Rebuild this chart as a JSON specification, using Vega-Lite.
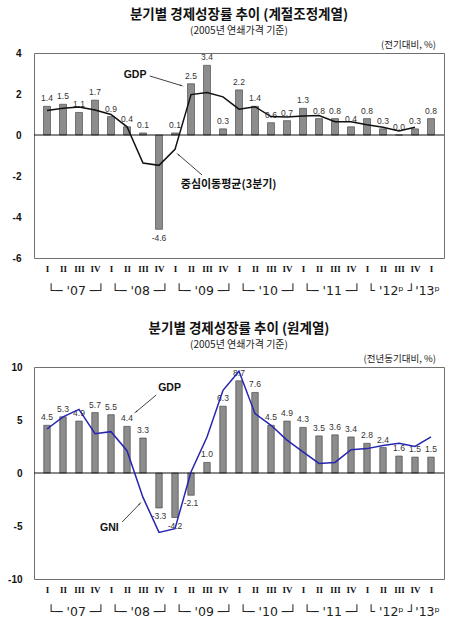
{
  "$schema": "https://vega.github.io/schema/vega-lite/v6.json",
  "background": "white",
  "padding": {"top": 7, "left": 7, "right": 2, "bottom": 0},
  "spacing": 24,
  "config": {
    "view": {"stroke": "#707070", "strokeWidth": 1},
    "font": "Liberation Sans",
    "title": {
      "font": "Noto Sans CJK KR",
      "fontSize": 13.5,
      "fontWeight": "bold",
      "color": "#111111",
      "subtitleFont": "Noto Sans CJK KR",
      "subtitleFontSize": 10,
      "subtitleColor": "#222222",
      "subtitlePadding": 5,
      "anchor": "middle",
      "frame": "group",
      "offset": 4
    }
  },
  "datasets": {
    "one": [{}],
    "sa": [
      {"n": 0, "gdp": 1.4, "ma": 1.2},
      {"n": 1, "gdp": 1.5, "ma": 1.3},
      {"n": 2, "gdp": 1.1, "ma": 1.37},
      {"n": 3, "gdp": 1.7, "ma": 1.22},
      {"n": 4, "gdp": 0.9, "ma": 1.0},
      {"n": 5, "gdp": 0.4, "ma": 0.4},
      {"n": 6, "gdp": 0.1, "ma": -1.37},
      {"n": 7, "gdp": -4.6, "ma": -1.48},
      {"n": 8, "gdp": 0.1, "ma": -0.7},
      {"n": 9, "gdp": 2.5, "ma": 1.97},
      {"n": 10, "gdp": 3.4, "ma": 2.07},
      {"n": 11, "gdp": 0.3, "ma": 1.86},
      {"n": 12, "gdp": 2.2, "ma": 1.26},
      {"n": 13, "gdp": 1.4, "ma": 1.38},
      {"n": 14, "gdp": 0.6, "ma": 0.9},
      {"n": 15, "gdp": 0.7, "ma": 0.88},
      {"n": 16, "gdp": 1.3, "ma": 0.93},
      {"n": 17, "gdp": 0.8, "ma": 0.95},
      {"n": 18, "gdp": 0.8, "ma": 0.65},
      {"n": 19, "gdp": 0.4, "ma": 0.65},
      {"n": 20, "gdp": 0.8, "ma": 0.5},
      {"n": 21, "gdp": 0.3, "ma": 0.38},
      {"n": 22, "gdp": 0.0, "ma": 0.2},
      {"n": 23, "gdp": 0.3, "ma": 0.38},
      {"n": 24, "gdp": 0.8, "ma": null}
    ],
    "yoy": [
      {"n": 0, "gdp": 4.5, "gni": 4.15},
      {"n": 1, "gdp": 5.3, "gni": 5.3},
      {"n": 2, "gdp": 4.9, "gni": 6.0},
      {"n": 3, "gdp": 5.7, "gni": 3.7},
      {"n": 4, "gdp": 5.5, "gni": 3.9},
      {"n": 5, "gdp": 4.4, "gni": 2.1},
      {"n": 6, "gdp": 3.3, "gni": -2.3},
      {"n": 7, "gdp": -3.3, "gni": -5.6},
      {"n": 8, "gdp": -4.2, "gni": -5.25},
      {"n": 9, "gdp": -2.1, "gni": 0.1},
      {"n": 10, "gdp": 1.0, "gni": 3.4},
      {"n": 11, "gdp": 6.3, "gni": 7.8},
      {"n": 12, "gdp": 8.7, "gni": 9.6},
      {"n": 13, "gdp": 7.6, "gni": 5.6},
      {"n": 14, "gdp": 4.5, "gni": 4.5},
      {"n": 15, "gdp": 4.9, "gni": 3.1},
      {"n": 16, "gdp": 4.3, "gni": 2.0},
      {"n": 17, "gdp": 3.5, "gni": 0.9},
      {"n": 18, "gdp": 3.6, "gni": 1.0},
      {"n": 19, "gdp": 3.4, "gni": 2.2},
      {"n": 20, "gdp": 2.8, "gni": 2.3},
      {"n": 21, "gdp": 2.4, "gni": 2.6},
      {"n": 22, "gdp": 1.6, "gni": 2.8},
      {"n": 23, "gdp": 1.5, "gni": 2.5},
      {"n": 24, "gdp": 1.5, "gni": 3.4}
    ]
  },
  "vconcat": [
    {
      "width": 410,
      "height": 205,
      "title": {"text": "분기별 경제성장률 추이 (계절조정계열)", "subtitle": "(2005년 연쇄가격 기준)"},
      "data": {"name": "sa"},
      "resolve": {"axis": {"x": "independent"}},
      "layer": [
        {
          "mark": {"type": "bar", "size": 7, "fill": "#8c8c8c", "stroke": "#3a3a3a", "strokeWidth": 0.6},
          "encoding": {
            "x": {
              "field": "n", "type": "quantitative",
              "scale": {"domain": [-0.5, 24.5], "nice": false, "zero": false},
              "axis": {
                "title": null, "values": [0,1,2,3,4,5,6,7,8,9,10,11,12,13,14,15,16,17,18,19,20,21,22,23,24],
                "labelExpr": "['I','II','III','IV'][datum.value % 4]",
                "domain": false, "ticks": false, "grid": false,
                "labelFont": "Liberation Serif", "labelFontWeight": "bold", "labelFontSize": 9,
                "labelColor": "#111111", "labelPadding": 6, "labelOverlap": false, "labelFlush": false
              }
            },
            "y": {
              "field": "gdp", "type": "quantitative",
              "scale": {"domain": [-6, 4], "nice": false},
              "axis": {
                "title": null, "values": [-6, -4, -2, 0, 2, 4], "grid": false, "domain": false, "ticks": false,
                "labelExpr": "'' + datum.value",
                "labelFontWeight": "bold", "labelFontSize": 10, "labelColor": "#111111", "labelPadding": 13
              }
            }
          }
        },
        {
          "transform": [{"filter": "datum.gdp >= 0"}],
          "mark": {"type": "text", "baseline": "bottom", "dy": -3, "fontSize": 8.5, "color": "#333333"},
          "encoding": {
            "x": {"field": "n", "type": "quantitative", "axis": null},
            "y": {"field": "gdp", "type": "quantitative", "axis": {"title": null}},
            "text": {"field": "gdp", "type": "quantitative", "format": ".1f"}
          }
        },
        {
          "transform": [{"filter": "datum.gdp < 0"}],
          "mark": {"type": "text", "baseline": "top", "dy": 5, "fontSize": 8.5, "color": "#333333",
                   "text": {"expr": "replace(format(datum.gdp, '.1f'), '\u2212', '-')"}},
          "encoding": {
            "x": {"field": "n", "type": "quantitative", "axis": null},
            "y": {"field": "gdp", "type": "quantitative", "axis": {"title": null}}
          }
        },
        {
          "data": {"name": "one"},
          "mark": {"type": "rule", "color": "#111111", "strokeWidth": 1},
          "encoding": {"y": {"datum": 0, "type": "quantitative"}}
        },
        {
          "mark": {"type": "line", "color": "#111111", "strokeWidth": 1.5},
          "encoding": {
            "x": {
              "field": "n", "type": "quantitative",
              "axis": {
                "title": null, "orient": "bottom", "values": [0, 4, 8, 12, 16, 20],
                "labelExpr": "[\"└─ '07 ─┘\", \"└─ '08 ─┘\", \"└─ '09 ─┘\", \"└─ '10 ─┘\", \"└─ '11 ─┘\", \"└  '12ᵖ  ┘'13ᵖ\"][datum.value / 4]",
                "domain": false, "ticks": false, "grid": false,
                "labelFont": "DejaVu Sans", "labelFontSize": 12.5, "labelColor": "#222222",
                "labelAlign": "left", "labelDx": -3.8, "labelPadding": 26, "labelOverlap": false, "labelFlush": false
              }
            },
            "y": {"field": "ma", "type": "quantitative", "axis": {"title": null}}
          }
        },
        {
          "data": {"name": "one"},
          "mark": {"type": "text", "text": "(전기대비, %)", "align": "right", "baseline": "bottom", "dx": -3, "dy": -3, "font": "Noto Sans CJK KR", "fontSize": 9.5, "color": "#222222"},
          "encoding": {
            "x": {"datum": 24.5, "type": "quantitative", "axis": null},
            "y": {"datum": 4, "type": "quantitative"}
          }
        },
        {
          "data": {"name": "one"},
          "mark": {"type": "text", "text": "GDP", "fontWeight": "bold", "fontSize": 10.5, "color": "#111111"},
          "encoding": {
            "x": {"datum": 5.5, "type": "quantitative", "axis": null},
            "y": {"datum": 2.93, "type": "quantitative"}
          }
        },
        {
          "data": {"name": "one"},
          "mark": {"type": "rule", "color": "#111111", "strokeWidth": 0.8},
          "encoding": {
            "x": {"datum": 6.42, "type": "quantitative", "axis": null},
            "x2": {"datum": 8.4},
            "y": {"datum": 2.88, "type": "quantitative"},
            "y2": {"datum": 2.41}
          }
        },
        {
          "data": {"name": "one"},
          "mark": {"type": "point", "shape": "wedge", "filled": true, "color": "#111111", "size": 28, "angle": 106},
          "encoding": {
            "x": {"datum": 8.4, "type": "quantitative", "axis": null},
            "y": {"datum": 2.41, "type": "quantitative"}
          }
        },
        {
          "data": {"name": "one"},
          "mark": {"type": "text", "text": "중심이동평균(3분기)", "align": "left", "fontWeight": "bold", "font": "Noto Sans CJK KR", "fontSize": 11, "color": "#111111"},
          "encoding": {
            "x": {"datum": 8.36, "type": "quantitative", "axis": null},
            "y": {"datum": -2.44, "type": "quantitative"}
          }
        },
        {
          "data": {"name": "one"},
          "mark": {"type": "rule", "color": "#111111", "strokeWidth": 0.8},
          "encoding": {
            "x": {"datum": 9.69, "type": "quantitative", "axis": null},
            "x2": {"datum": 8.2},
            "y": {"datum": -1.95, "type": "quantitative"},
            "y2": {"datum": -0.95}
          }
        },
        {
          "data": {"name": "one"},
          "mark": {"type": "point", "shape": "wedge", "filled": true, "color": "#111111", "size": 28, "angle": 310},
          "encoding": {
            "x": {"datum": 8.2, "type": "quantitative", "axis": null},
            "y": {"datum": -0.95, "type": "quantitative"}
          }
        }
      ]
    },
    {
      "width": 410,
      "height": 212,
      "title": {"text": "분기별 경제성장률 추이 (원계열)", "subtitle": "(2005년 연쇄가격 기준)"},
      "data": {"name": "yoy"},
      "resolve": {"axis": {"x": "independent"}},
      "layer": [
        {
          "mark": {"type": "bar", "size": 6.5, "fill": "#8c8c8c", "stroke": "#3a3a3a", "strokeWidth": 0.6},
          "encoding": {
            "x": {
              "field": "n", "type": "quantitative",
              "scale": {"domain": [-0.5, 24.5], "nice": false, "zero": false},
              "axis": {
                "title": null, "values": [0,1,2,3,4,5,6,7,8,9,10,11,12,13,14,15,16,17,18,19,20,21,22,23,24],
                "labelExpr": "['I','II','III','IV'][datum.value % 4]",
                "domain": false, "ticks": false, "grid": false,
                "labelFont": "Liberation Serif", "labelFontWeight": "bold", "labelFontSize": 9,
                "labelColor": "#111111", "labelPadding": 6, "labelOverlap": false, "labelFlush": false
              }
            },
            "y": {
              "field": "gdp", "type": "quantitative",
              "scale": {"domain": [-10, 10], "nice": false},
              "axis": {
                "title": null, "values": [-10, -5, 0, 5, 10], "grid": false, "domain": false, "ticks": false,
                "labelExpr": "'' + datum.value",
                "labelFontWeight": "bold", "labelFontSize": 10, "labelColor": "#111111", "labelPadding": 12
              }
            }
          }
        },
        {
          "transform": [{"filter": "datum.gdp >= 0"}],
          "mark": {"type": "text", "baseline": "bottom", "dy": -3, "fontSize": 8.5, "color": "#333333"},
          "encoding": {
            "x": {"field": "n", "type": "quantitative", "axis": null},
            "y": {"field": "gdp", "type": "quantitative", "axis": {"title": null}},
            "text": {"field": "gdp", "type": "quantitative", "format": ".1f"}
          }
        },
        {
          "transform": [{"filter": "datum.gdp < 0"}],
          "mark": {"type": "text", "baseline": "top", "dy": 4, "fontSize": 8.5, "color": "#333333",
                   "text": {"expr": "replace(format(datum.gdp, '.1f'), '\u2212', '-')"}},
          "encoding": {
            "x": {"field": "n", "type": "quantitative", "axis": null},
            "y": {"field": "gdp", "type": "quantitative", "axis": {"title": null}}
          }
        },
        {
          "data": {"name": "one"},
          "mark": {"type": "rule", "color": "#111111", "strokeWidth": 1},
          "encoding": {"y": {"datum": 0, "type": "quantitative"}}
        },
        {
          "mark": {"type": "line", "color": "#2626b0", "strokeWidth": 1.5},
          "encoding": {
            "x": {
              "field": "n", "type": "quantitative",
              "axis": {
                "title": null, "orient": "bottom", "values": [0, 4, 8, 12, 16, 20],
                "labelExpr": "[\"└─ '07 ─┘\", \"└─ '08 ─┘\", \"└─ '09 ─┘\", \"└─ '10 ─┘\", \"└─ '11 ─┘\", \"└  '12ᵖ  ┘'13ᵖ\"][datum.value / 4]",
                "domain": false, "ticks": false, "grid": false,
                "labelFont": "DejaVu Sans", "labelFontSize": 12.5, "labelColor": "#222222",
                "labelAlign": "left", "labelDx": -3.8, "labelPadding": 26, "labelOverlap": false, "labelFlush": false
              }
            },
            "y": {"field": "gni", "type": "quantitative", "axis": {"title": null}}
          }
        },
        {
          "data": {"name": "one"},
          "mark": {"type": "text", "text": "(전년동기대비, %)", "align": "right", "baseline": "bottom", "dx": -3, "dy": -3, "font": "Noto Sans CJK KR", "fontSize": 9.5, "color": "#222222"},
          "encoding": {
            "x": {"datum": 24.5, "type": "quantitative", "axis": null},
            "y": {"datum": 10, "type": "quantitative"}
          }
        },
        {
          "data": {"name": "one"},
          "mark": {"type": "text", "text": "GDP", "fontWeight": "bold", "fontSize": 10.5, "color": "#111111"},
          "encoding": {
            "x": {"datum": 7.66, "type": "quantitative", "axis": null},
            "y": {"datum": 8.0, "type": "quantitative"}
          }
        },
        {
          "data": {"name": "one"},
          "mark": {"type": "rule", "color": "#111111", "strokeWidth": 0.8},
          "encoding": {
            "x": {"datum": 6.83, "type": "quantitative", "axis": null},
            "x2": {"datum": 5.55},
            "y": {"datum": 7.36, "type": "quantitative"},
            "y2": {"datum": 5.75}
          }
        },
        {
          "data": {"name": "one"},
          "mark": {"type": "point", "shape": "wedge", "filled": true, "color": "#111111", "size": 28, "angle": 231},
          "encoding": {
            "x": {"datum": 5.55, "type": "quantitative", "axis": null},
            "y": {"datum": 5.75, "type": "quantitative"}
          }
        },
        {
          "data": {"name": "one"},
          "mark": {"type": "text", "text": "GNI", "fontWeight": "bold", "fontSize": 10.5, "color": "#111111"},
          "encoding": {
            "x": {"datum": 3.9, "type": "quantitative", "axis": null},
            "y": {"datum": -5.19, "type": "quantitative"}
          }
        },
        {
          "data": {"name": "one"},
          "mark": {"type": "rule", "color": "#111111", "strokeWidth": 0.8},
          "encoding": {
            "x": {"datum": 4.7, "type": "quantitative", "axis": null},
            "x2": {"datum": 5.8},
            "y": {"datum": -4.62, "type": "quantitative"},
            "y2": {"datum": -2.9}
          }
        },
        {
          "data": {"name": "one"},
          "mark": {"type": "point", "shape": "wedge", "filled": true, "color": "#111111", "size": 28, "angle": 45},
          "encoding": {
            "x": {"datum": 5.8, "type": "quantitative", "axis": null},
            "y": {"datum": -2.9, "type": "quantitative"}
          }
        }
      ]
    }
  ]
}
